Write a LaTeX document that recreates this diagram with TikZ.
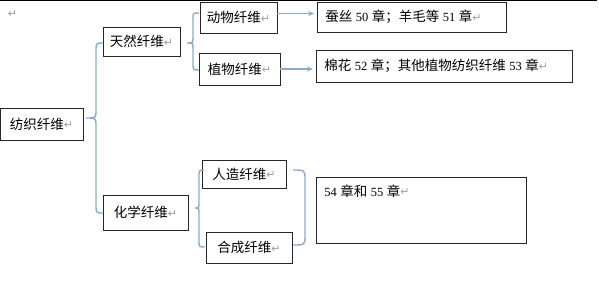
\documentclass[tikz,border=0pt]{standalone}
\usepackage{fontspec}
\setmainfont{Liberation Serif}
\newfontfamily\cjkfont{Noto Sans CJK SC}
\newfontfamily\symfont{DejaVu Sans}
\usetikzlibrary{arrows.meta}
\definecolor{bracecol}{RGB}{140,170,208}
\newcommand\zh[1]{{\cjkfont #1}}
\newcommand\chnum[1]{\hspace{3.5pt}{\fontsize{12.5}{14}\selectfont #1}\hspace{3.5pt}}
\newcommand\retmark{\raisebox{0.5pt}{\symfont\fontsize{11}{12}\selectfont\color{gray!75}↵}}

\begin{document}
\begin{tikzpicture}[x=1pt,y=-1pt,
  every node/.style={font=\fontsize{13.5}{16}\selectfont},
  box/.style={draw=black!85,line width=0.9pt,inner sep=0pt},
  brace/.style={draw=bracecol,line width=1.4pt},
  link/.style={-{Stealth[length=6pt,width=5pt]},draw=bracecol,fill=bracecol,line width=1.2pt,shorten >=3pt}]
\useasboundingbox (0,0) rectangle (599,305);
\draw[line width=1.2pt] (0,0.6) -- (597,0.6);
\node (mark) at (12.5,14) {\retmark};
% level 1
\node[box,minimum width=83pt,minimum height=32pt] (textile) at (41.5,124) {\zh{纺织纤维}\retmark};
% level 2
\node[box,minimum width=77pt,minimum height=29pt] (natural) at (141.5,41.5) {\zh{天然纤维}\retmark};
\node[box,minimum width=85pt,minimum height=35pt] (chemical) at (145.5,212.5) {\zh{化学纤维}\retmark};
% level 3
\node[box,minimum width=77pt,minimum height=31pt] (animal) at (238.5,17.5) {\zh{动物纤维}\retmark};
\node[box,minimum width=81pt,minimum height=32pt] (plant) at (239.5,69) {\zh{植物纤维}\retmark};
\node[box,minimum width=84pt,minimum height=28pt] (artificial) at (244,174) {\zh{人造纤维}\retmark};
\node[box,minimum width=86pt,minimum height=31pt] (synthetic) at (249,247.5) {\zh{合成纤维}\retmark};
% chapters
\node[box,anchor=west,inner xsep=8pt,text width=173pt,minimum height=30pt,align=left] (silk) at (317,17)
  {\zh{蚕丝}\chnum{50}\zh{章；羊毛等}\chnum{51}\zh{章}\retmark};
\node[box,anchor=west,inner xsep=8pt,text width=240pt,minimum height=32pt,align=left] (cotton) at (316,66)
  {\zh{棉花}\chnum{52}\zh{章；其他植物纺织纤维}\chnum{53}\zh{章}\retmark};
\node[box,anchor=north west,inner xsep=8pt,inner ysep=4pt,text width=194pt,text height=15pt,text depth=43pt,align=left] (manmade) at (316,177)
  {\hspace{-3.5pt}\chnum{54}\zh{章和}\chnum{55}\zh{章}\retmark};
% braces
\draw[brace] (103,43) .. controls (96,43) .. (96,52) -- (96,110) .. controls (96,118) .. (86,118)
  .. controls (96,118) .. (96,126) -- (96,204) .. controls (96,213) .. (103,213);
\draw[brace] (199,13) .. controls (193,13) .. (193,20) -- (193,37) .. controls (193,43) .. (187,43)
  .. controls (193,43) .. (193,49) -- (193,63) .. controls (193,70) .. (199,70);
\draw[brace] (204,170) .. controls (199,170) .. (199,177) -- (199,202) .. controls (199,208) .. (195,208)
  .. controls (199,208) .. (199,214) -- (199,240) .. controls (199,247) .. (205,247);
\draw[brace] (293,170) .. controls (305,170) .. (305,180) -- (305,235) .. controls (305,245) .. (293,245);
% arrows
\draw[link] ([yshift=4pt]animal.east) -- ([yshift=4pt]animal.east -| silk.west);
\draw[link] (plant.east) -- (plant.east -| cotton.west);
\end{tikzpicture}
\end{document}
